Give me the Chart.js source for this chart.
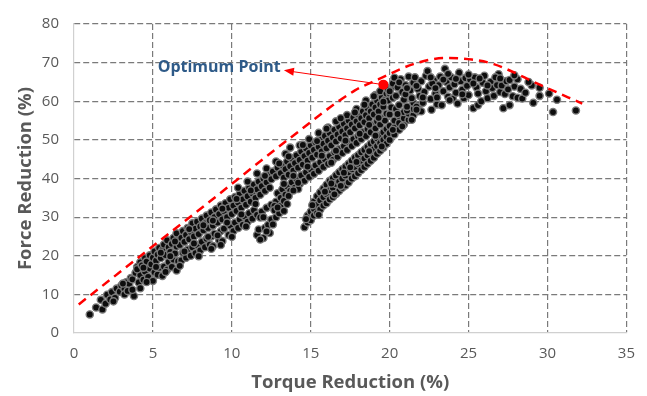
<!DOCTYPE html>
<html>
<head>
<meta charset="utf-8">
<script src="https://cdn.jsdelivr.net/npm/chart.js@4.4.1/dist/chart.umd.min.js"></script>
<style>
  html, body { margin: 0; padding: 0; background: #fff; }
  #wrap { width: 647px; height: 396px; position: relative; }
</style>
</head>
<body>
<div id="wrap"><canvas id="myChart"></canvas></div>
<script>
// axis ticks
const xTicks = [0, 5, 10, 15, 20, 25, 30, 35];
const yTicks = [0, 10, 20, 30, 40, 50, 60, 70, 80];

// measured points: [torque reduction, force reduction]
const mainBand = [
  [1.0,4.8],[1.4,6.6],[1.7,8.6],[1.8,6.1],[2.0,7.6],[2.1,9.9],[2.3,8.7],[2.4,10.6],[2.6,9.1],[2.7,11.5],
  [2.9,10.7],[3.0,12.3],[3.2,11.4],[3.3,13.1],[3.2,10.0],[3.5,12.7],[3.6,14.2],[3.4,10.9],[3.8,9.6],[3.7,13.9],
  [3.9,15.6],[4.0,17.1],[4.1,13.1],[4.2,11.6],[4.2,15.0],[4.0,16.5],[4.2,18.3],[4.4,13.8],[4.5,15.9],[4.3,17.5],
  [4.5,19.4],[4.7,14.5],[4.8,16.7],[4.6,18.5],[4.8,20.1],[5.0,13.5],[5.1,15.7],[4.9,17.8],[5.0,19.5],[5.1,21.1],
  [5.3,15.1],[5.4,16.9],[5.2,18.7],[5.3,20.3],[5.4,22.0],[5.6,14.8],[5.7,17.2],[5.5,19.4],[5.6,21.5],[5.7,22.9],
  [5.9,16.4],[6.0,18.4],[5.8,20.2],[6.0,22.2],[5.9,24.0],[6.2,17.1],[6.3,19.0],[6.1,21.0],[6.2,23.1],[6.3,24.6],
  [6.5,16.2],[6.6,18.6],[6.4,20.6],[6.5,22.4],[6.6,24.1],[6.5,25.8],[6.8,18.8],[6.9,20.8],[6.7,22.8],[6.8,24.6],
  [6.9,26.4],[7.1,19.5],[7.2,21.6],[7.0,23.6],[7.1,25.4],[7.2,27.2],[7.4,20.0],[7.5,22.2],[7.3,24.3],[7.4,26.2],
  [7.5,28.4],[7.7,20.7],[7.8,22.8],[7.6,25.0],[7.7,27.0],[7.8,28.8],[8.0,21.4],[8.1,23.6],[7.9,25.6],[8.0,27.6],
  [8.1,29.6],[8.3,22.2],[8.4,24.4],[8.2,26.6],[8.3,28.4],[8.4,30.4],[8.6,22.9],[8.7,25.0],[8.5,27.2],[8.6,29.2],
  [8.7,31.2],[8.8,22.5],[8.9,25.7],[8.8,27.8],[8.9,30.0],[9.0,32.0],[9.2,24.0],[9.3,26.4],[9.1,28.6],[9.2,30.8],
  [9.3,33.0],[9.4,23.8],[9.5,27.0],[9.4,29.4],[9.5,31.6],[9.6,33.6],[9.8,25.4],[9.9,27.8],[9.7,30.0],[9.8,32.4],
  [9.9,34.6],[10.1,26.4],[10.2,28.6],[10.0,30.8],[10.1,33.0],[10.2,35.2],[10.4,27.2],[10.5,29.4],[10.3,31.6],[10.4,33.8],
  [10.5,36.0],[10.4,37.6],[10.7,28.0],[10.8,30.2],[10.6,32.4],[10.7,34.6],[10.8,36.8],[11.0,28.8],[11.1,31.0],[10.9,33.2],
  [11.0,35.4],[11.1,37.6],[11.0,39.2],[11.3,29.6],[11.4,31.8],[11.2,34.0],[11.3,36.2],[11.4,38.4],[11.6,30.6],
  [11.5,35.0],[11.6,37.2],[11.7,39.2],[11.6,41.3],[11.9,31.4],[11.8,35.8],[11.9,38.0],[12.0,40.0],[12.2,32.4],
  [12.1,36.8],[12.2,39.0],[12.3,41.0],[12.2,42.6],[12.5,33.2],[12.4,37.6],[12.5,39.8],[12.6,41.8],
  [12.8,34.0],[12.9,36.2],[12.8,40.6],[12.9,42.8],[12.8,44.4],[13.1,35.0],[13.2,37.2],[13.1,41.4],
  [13.2,43.4],[13.4,35.8],[13.5,38.0],[13.3,40.2],[13.4,42.4],[13.5,44.4],[13.4,46.4],[13.7,36.8],[13.8,39.0],[13.6,41.0],
  [13.7,43.2],[13.8,45.2],[13.7,48.0],[14.0,37.6],[14.1,39.8],[13.9,42.0],[14.0,44.0],[14.1,46.0],[14.3,38.6],[14.4,40.8],
  [14.2,42.8],[14.3,44.8],[14.4,47.0],[14.3,48.6],[14.6,39.4],[14.7,41.6],[14.5,43.6],[14.6,45.8],[14.7,47.8],[14.9,40.4],
  [15.0,42.4],[14.8,44.6],[14.9,46.6],[15.0,48.6],[14.9,50.2],[15.2,41.2],[15.3,43.4],[15.1,45.4],[15.2,47.4],[15.3,49.4],
  [15.5,42.0],[15.6,44.2],[15.4,46.2],[15.5,48.2],[15.6,50.2],[15.5,51.8],[15.8,43.0],[15.9,45.0],[15.7,47.0],[15.8,49.0],
  [15.9,51.0],[16.1,43.8],[16.2,45.8],[16.0,47.8],[16.1,49.8],[16.2,51.8],[16.1,53.2],[16.4,44.8],[16.5,46.8],[16.3,48.6],
  [16.4,50.6],[16.5,52.6],[16.7,45.6],[16.8,47.6],[16.6,49.6],[16.7,51.4],[16.8,53.4],[16.6,54.8],[17.0,46.6],[17.1,48.4],
  [16.9,50.4],[17.0,52.2],[17.1,54.2],[17.3,47.4],[17.4,49.4],[17.2,51.2],[17.3,53.0],[17.4,55.0],[17.3,56.4],[17.6,48.4],
  [17.7,50.2],[17.5,52.0],[17.6,54.0],[17.7,55.8],[17.9,49.2],[18.0,51.0],[17.8,53.0],[17.9,54.8],[18.0,56.6],[17.9,58.0],
  [18.2,50.2],[18.3,52.0],[18.1,53.8],[18.2,55.6],[18.3,57.4],[18.5,51.0],[18.6,52.8],[18.4,54.6],[18.5,56.4],[18.6,58.2],
  [18.5,60.2],[18.8,52.0],[18.9,53.8],[18.7,55.6],[18.8,57.4],[18.9,59.2],[19.1,53.0],[19.2,54.8],[19.0,56.6],[19.1,58.4],
  [19.2,60.2],[19.1,61.6],[19.4,54.0],[19.5,55.6],[19.3,57.4],[19.4,59.2],[19.5,61.0],[19.4,62.6],[19.7,55.0],[19.8,56.8],
  [19.6,58.6],[19.7,60.4],[19.8,62.0],[20.0,56.6],[20.1,58.4],[19.9,60.2],[20.0,62.0],[20.1,63.6]
];

// scattered points between the rows of the main band
const mainBandExtra = [
  [2.5,8.2],[3.1,12.8],[3.7,11.2],[4.4,16.9],[4.6,13.2],[5.2,17.1],[5.5,20.8],[5.8,15.8],[6.1,19.9],[6.4,23.7],
  [6.7,17.4],[7.0,21.1],[7.3,26.9],[7.6,23.2],[7.9,19.9],[8.2,27.9],[8.5,24.9],[8.8,29.1],[9.1,25.3],[9.4,32.2],
  [9.7,28.6],[10.0,24.9],[10.3,34.7],[10.6,30.7],[10.9,27.6],[11.2,36.9],[11.5,33.4],[11.8,29.9],[12.1,40.7],
  [12.7,32.9],[13.0,43.9],[13.3,38.6],[13.6,45.7],[13.9,40.7],[14.2,37.3],[14.5,48.7],[14.8,43.1],[15.4,49.7],
  [15.7,45.9],[16.0,52.9],[16.3,44.1],[16.6,47.2],[16.9,55.6],[17.2,49.8],[17.8,57.1],[18.1,51.6],[18.4,59.1],
  [18.7,53.9],[19.0,61.3],[19.3,55.7],[19.6,59.9],[19.9,63.0],[20.2,60.9],[20.4,58.0]
];

const lowerBranch = [
  [11.6,25.4],[11.7,26.8],[12.0,24.6],[12.1,27.2],[12.0,30.0],[12.4,25.9],[12.3,28.0],[12.5,29.4],[12.8,30.0],
  [12.7,31.8],[13.1,33.0],[13.0,31.0],[13.3,34.2],[13.5,33.4],[8.7,21.8],[9.3,22.8],
  [11.8,24.2],[12.2,26.3],[12.6,28.1],[12.9,32.5],[13.3,31.6],[13.6,35.5],[13.9,36.9],[14.2,38.9]
];

const sideBranch = [
  [14.6,27.4],[14.8,28.6],[14.8,30.4],[15.0,29.2],[15.0,31.4],[15.2,30.4],[15.2,32.2],[15.2,34.0],[15.4,31.0],[15.4,33.2],
  [15.4,35.4],[15.6,32.0],[15.6,34.4],[15.6,36.4],[15.8,33.0],[15.8,35.2],[15.8,37.4],[16.0,33.6],[16.0,36.0],[16.0,38.4],
  [16.2,34.6],[16.2,37.0],[16.2,39.4],[16.4,35.2],[16.4,37.6],[16.4,40.0],[16.6,36.0],[16.6,38.6],[16.6,40.8],[16.8,36.8],
  [16.8,39.2],[16.8,41.6],[17.0,37.6],[17.0,40.0],[17.0,42.4],[17.2,38.2],[17.2,40.8],[17.2,43.0],[17.4,39.0],[17.4,41.6],
  [17.4,43.8],[17.6,40.0],[17.6,42.4],[17.6,44.6],[17.8,40.6],[17.8,43.0],[17.8,45.4],[18.0,41.4],[18.0,43.8],[18.0,46.0],
  [18.2,42.2],[18.2,44.6],[18.2,46.8],[18.4,43.0],[18.4,45.2],[18.4,47.4],[18.6,43.8],[18.6,46.0],[18.6,48.2],[18.8,44.6],
  [18.8,46.8],[18.8,49.0],[19.0,45.4],[19.0,47.6],[19.0,49.6],[19.2,46.4],[19.2,48.4],[19.2,50.4],[19.4,47.2],[19.4,49.2],
  [19.4,51.2],[19.6,48.0],[19.6,50.0],[19.6,52.0],[19.8,49.0],[19.8,50.8],[19.8,52.8],[20.0,50.0],[20.0,51.8],[20.0,53.6],
  [20.3,51.4],[20.3,53.2],[20.3,55.0],[20.6,52.6],[20.6,54.4],[20.6,56.2],[20.9,54.0],[20.9,55.6],[20.9,57.2],[21.2,55.2],
  [21.2,56.8],[21.2,58.4],[21.5,56.4],[21.5,58.0],[21.5,59.6],[21.8,57.4],[21.8,59.0],
  [14.7,29.5],[15.1,33.1],[15.5,30.6],[15.9,36.6],[16.3,38.7],[16.5,35.9],[16.9,38.1],[17.1,41.5],[17.5,42.9],[17.9,44.3],
  [18.7,47.1],[19.1,51.1],[19.5,48.3],[20.2,52.6],[20.5,56.7],[20.8,53.5],[21.1,57.6],[21.4,55.2],
  [21.7,58.6],[22.0,57.4]
];

const plateau = [
  [20.0,62.6],[20.2,64.6],[20.4,61.4],[20.5,63.6],[20.7,65.7],[20.8,62.4],[20.9,60.4],[21.0,64.2],[21.1,58.6],[21.2,66.4],
  [21.3,62.8],[21.4,60.8],[21.5,64.8],[21.6,66.2],[21.7,57.8],[21.8,63.2],[21.9,61.4],[22.0,65.2],[22.1,59.6],[22.2,62.4],
  [22.3,66.6],[22.4,67.8],[22.5,63.8],[22.6,60.6],[22.65,57.8],[22.8,65.4],[22.9,62.0],[23.0,59.2],[23.1,64.2],[23.2,66.4],
  [23.3,59.0],[23.4,62.6],[23.5,68.4],[23.6,65.0],[23.7,61.2],[23.8,63.6],[23.9,66.2],[24.0,60.7],[24.1,64.4],[24.2,62.2],
  [24.4,67.4],[24.5,65.2],[24.6,63.0],[24.7,60.8],[24.8,66.0],[24.9,64.0],[25.0,61.6],[25.1,65.6],[25.3,58.2],[25.4,66.2],
  [25.5,63.6],[25.6,62.0],[25.6,59.0],[25.8,60.0],[25.9,64.8],[26.0,66.6],[26.1,62.6],[26.2,60.8],[26.4,65.0],[26.5,63.4],
  [26.6,61.4],[26.8,64.2],[26.9,67.0],[27.0,62.4],[27.1,64.1],[27.2,58.2],[27.3,61.9],[27.4,65.2],[27.6,59.0],[27.6,65.5],
  [27.8,61.3],[27.9,63.8],[28.1,65.7],[28.1,60.9],[28.3,63.2],[28.4,60.7],[29.0,64.1],[29.1,59.6],[29.5,63.5],[29.5,61.4],
  [30.1,62.0],[30.6,60.4],[30.35,57.2],[31.8,57.6],[23.8,60.3],[24.3,59.4],[20.6,59.0],[21.0,61.8],[22.7,64.6],[23.0,61.0],
  [20.3,66.1],[20.6,64.9],[21.1,63.4],[21.7,64.0],[22.1,61.0],[22.6,66.2],[22.9,63.4],[23.4,65.6],[23.7,67.1],[24.2,65.8],
  [24.6,61.8],[25.0,66.9],[25.3,64.6],[25.7,65.9],[26.2,64.1],[26.7,66.2],[27.0,65.9],[27.5,63.1],[27.9,66.7],[28.6,62.2],
  [28.8,65.0]
];

// dashed envelope curve
const envelope = [
  [0.3,7.4],[4.35,20.4],[8.4,33.4],[13.6,50.2],[17.8,62.8],[19.3,65.7],[21.5,69.6],[23.5,71.2],[25.2,70.8],[26.6,69.6],
  [29.6,64.1],[32.2,59.4]
];

// optimum point and its callout
const optimumPoint = [19.6, 64.3];
const calloutTip = [13.3, 68.0];
const calloutLabel = 'Optimum Point';
const calloutAnchor = [13.1, 68.7];

const toXY = arr => arr.map(p => ({ x: p[0], y: p[1] }));
const allPoints = [].concat(mainBand, mainBandExtra, lowerBranch, sideBranch, plateau);

const calloutPlugin = {
  id: 'callout',
  afterDatasetsDraw(chart) {
    const { ctx, scales: { x, y } } = chart;
    const x0 = x.getPixelForValue(optimumPoint[0]);
    const y0 = y.getPixelForValue(optimumPoint[1]);
    const x1 = x.getPixelForValue(calloutTip[0]);
    const y1 = y.getPixelForValue(calloutTip[1]);
    const ang = Math.atan2(y1 - y0, x1 - x0);
    ctx.save();
    ctx.strokeStyle = '#FF0000';
    ctx.fillStyle = '#FF0000';
    ctx.lineWidth = 1;
    ctx.beginPath();
    ctx.moveTo(x0, y0);
    ctx.lineTo(x1 - 8 * Math.cos(ang), y1 - 8 * Math.sin(ang));
    ctx.stroke();
    // arrow head
    ctx.beginPath();
    ctx.moveTo(x1, y1);
    ctx.lineTo(x1 - 10 * Math.cos(ang) + 4 * Math.sin(ang), y1 - 10 * Math.sin(ang) - 4 * Math.cos(ang));
    ctx.lineTo(x1 - 10 * Math.cos(ang) - 4 * Math.sin(ang), y1 - 10 * Math.sin(ang) + 4 * Math.cos(ang));
    ctx.closePath();
    ctx.fill();
    // label
    ctx.font = 'bold 16px "Open Sans"';
    ctx.fillStyle = '#2E5A88';
    ctx.textAlign = 'right';
    ctx.textBaseline = 'middle';
    ctx.fillText(calloutLabel, x.getPixelForValue(calloutAnchor[0]), y.getPixelForValue(calloutAnchor[1]));
    ctx.restore();
  }
};

const ctx = document.getElementById('myChart').getContext('2d');

new Chart(ctx, {
  type: 'scatter',
  data: {
    datasets: [
      {
        label: 'Optimum',
        data: toXY([optimumPoint]),
        pointRadius: 5,
        backgroundColor: '#FF0000',
        borderColor: '#FF0000',
        borderWidth: 0,
        order: 0,
      },
      {
        label: 'Envelope',
        type: 'line',
        data: toXY(envelope),
        borderColor: '#FF0000',
        borderWidth: 2.5,
        borderDash: [9, 6],
        pointRadius: 0,
        fill: false,
        cubicInterpolationMode: 'monotone',
        order: 1,
      },
      {
        label: 'Measured',
        data: toXY(allPoints),
        pointRadius: 3.6,
        backgroundColor: '#0d0d0d',
        borderColor: '#7a7a7a',
        borderWidth: 1.4,
        order: 2,
      },
    ],
  },
  options: {
    responsive: true,
    maintainAspectRatio: false,
    animation: false,
    layout: { padding: { left: 0, top: 15, right: 18, bottom: 0 } },
    plugins: {
      legend: { display: false },
      tooltip: { enabled: false },
    },
    scales: {
      x: {
        type: 'linear',
        min: 0,
        max: 35,
        afterBuildTicks: s => { s.ticks = xTicks.map(v => ({ value: v })); },
        afterFit: s => { s.height = 63; },
        grid: {
          color: c => (c.index === 0 ? 'rgba(0,0,0,0)' : '#7a7a7a'),
          lineWidth: 1.2,
          drawTicks: false,
        },
        border: { color: '#d0d0d0', width: 1.2, dash: [6, 3] },
        ticks: {
          color: '#595959',
          padding: 12,
          font: { family: '"Open Sans"', size: 15 },
        },
        title: {
          display: true,
          text: 'Torque Reduction (%)',
          color: '#595959',
          font: { family: '"Open Sans"', size: 18.5, weight: 'bold' },
          padding: { top: 0, bottom: 2 },
        },
      },
      y: {
        type: 'linear',
        min: 0,
        max: 80,
        afterBuildTicks: s => { s.ticks = yTicks.map(v => ({ value: v })); },
        afterFit: s => { s.width = 74; },
        grid: {
          color: c => (c.index === 0 ? 'rgba(0,0,0,0)' : '#7a7a7a'),
          lineWidth: 1.2,
          drawTicks: false,
        },
        border: { color: '#d0d0d0', width: 1.2, dash: [6, 3] },
        ticks: {
          color: '#595959',
          padding: 15,
          font: { family: '"Open Sans"', size: 15 },
        },
        title: {
          display: true,
          text: 'Force Reduction (%)',
          color: '#595959',
          font: { family: '"Open Sans"', size: 18.5, weight: 'bold' },
          padding: { top: 15, bottom: 0 },
        },
      },
    },
  },
  plugins: [calloutPlugin],
});
</script>
</body>
</html>
